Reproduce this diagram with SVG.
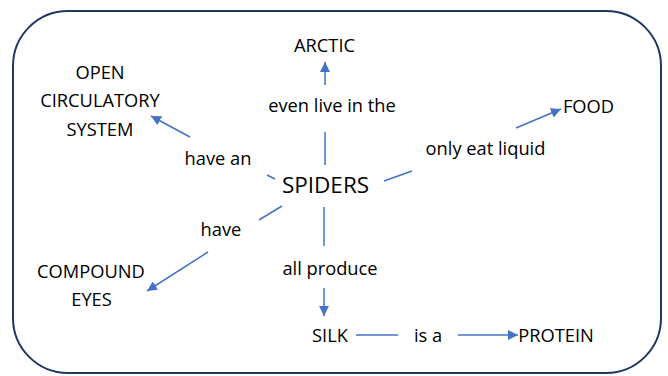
<svg xmlns="http://www.w3.org/2000/svg" width="668" height="376" viewBox="0 0 668 376">
<defs>
<style>
text{font-family:"Open Sans","Liberation Sans",sans-serif;font-size:18.3px;fill:#000;text-anchor:middle}
.big{font-size:22.5px}
.c{stroke:#4472C4;stroke-width:1.5;fill:none}
</style>
<marker id="ah" viewBox="0 0 10 10" refX="10" refY="5" markerWidth="10" markerHeight="10" markerUnits="userSpaceOnUse" orient="auto">
<path d="M0,0 L10,5 L0,10 Z" fill="#4472C4"/>
</marker>
</defs>
<rect x="13" y="11" width="648" height="362" rx="55" ry="55" fill="#fff" stroke="#1F3864" stroke-width="2"/>
<g id="connectors">
<line class="c" x1="325" y1="165" x2="325" y2="132"/>
<line class="c" x1="325" y1="85" x2="325" y2="62" marker-end="url(#ah)"/>
<line class="c" x1="275" y1="179" x2="267" y2="175"/>
<line class="c" x1="190" y1="137" x2="151" y2="116" marker-end="url(#ah)"/>
<line class="c" x1="384" y1="181" x2="412" y2="171"/>
<line class="c" x1="516" y1="128" x2="561" y2="109" marker-end="url(#ah)"/>
<line class="c" x1="282" y1="206" x2="259" y2="220"/>
<line class="c" x1="208" y1="252" x2="147" y2="291" marker-end="url(#ah)"/>
<line class="c" x1="324" y1="207" x2="324" y2="246"/>
<line class="c" x1="324" y1="288" x2="324" y2="316" marker-end="url(#ah)"/>
<line class="c" x1="356" y1="335" x2="398" y2="335"/>
<line class="c" x1="458" y1="335" x2="518" y2="335" marker-end="url(#ah)"/>
</g>
<g id="spiders"><text class="big" x="325.5" y="193">SPIDERS</text></g>
<g id="arctic"><text x="324.5" y="52">ARCTIC</text></g>
<g id="lbl-even"><text x="332" y="112">even live in the</text></g>
<g id="open-circ"><text x="100" y="79">OPEN</text><text x="100" y="107">CIRCULATORY</text><text x="100" y="136">SYSTEM</text></g>
<g id="lbl-havean"><text x="218" y="165">have an</text></g>
<g id="lbl-liquid"><text x="485.5" y="155">only eat liquid</text></g>
<g id="food"><text x="588.5" y="113">FOOD</text></g>
<g id="lbl-have"><text x="221" y="236">have</text></g>
<g id="compound"><text x="91" y="278">COMPOUND</text><text x="91.5" y="306">EYES</text></g>
<g id="lbl-produce"><text x="330" y="275">all produce</text></g>
<g id="silk"><text x="330" y="342">SILK</text></g>
<g id="lbl-isa"><text x="428" y="342">is a</text></g>
<g id="protein"><text x="556" y="342">PROTEIN</text></g>
</svg>
